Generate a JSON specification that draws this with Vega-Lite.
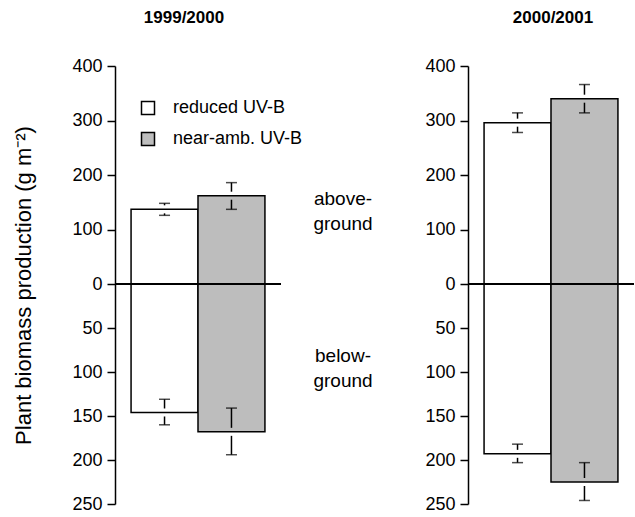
{
  "$schema": "https://vega.github.io/schema/vega-lite/v6.json",
  "background": "white",
  "padding": {"left": 12, "top": 9, "right": 0, "bottom": 0},
  "spacing": 0,
  "config": {
    "font": "Liberation Sans",
    "view": {"stroke": null},
    "axis": {"labelFont": "Liberation Sans", "titleFont": "Liberation Sans", "labelColor": "black", "titleColor": "black"}
  },
  "datasets": {
    "bio": [
      {"season": "1999/2000", "part": "above", "treatment": "reduced UV-B", "value": 137, "lower": 126, "upper": 148},
      {"season": "1999/2000", "part": "above", "treatment": "near-amb. UV-B", "value": 162, "lower": 137, "upper": 186},
      {"season": "1999/2000", "part": "below", "treatment": "reduced UV-B", "value": -146, "lower": -160, "upper": -131},
      {"season": "1999/2000", "part": "below", "treatment": "near-amb. UV-B", "value": -168, "lower": -194, "upper": -141},
      {"season": "2000/2001", "part": "above", "treatment": "reduced UV-B", "value": 296, "lower": 278, "upper": 314},
      {"season": "2000/2001", "part": "above", "treatment": "near-amb. UV-B", "value": 340, "lower": 314, "upper": 366},
      {"season": "2000/2001", "part": "below", "treatment": "reduced UV-B", "value": -193, "lower": -203, "upper": -182},
      {"season": "2000/2001", "part": "below", "treatment": "near-amb. UV-B", "value": -225, "lower": -246, "upper": -203}
    ],
    "labels": [
      {"text": "above-\nground", "pos": 156},
      {"text": "below-\nground", "pos": -82}
    ]
  },
  "hconcat": [
    {
      "width": 166,
      "height": 438,
      "title": {"text": "1999/2000", "fontSize": 17, "fontWeight": "bold", "font": "Liberation Sans", "dx": -14, "offset": 30},
      "data": {"name": "bio"},
      "transform": [{"filter": "datum.season == '1999/2000'"}],
      "layer": [
        {
          "mark": {"type": "bar", "stroke": "black", "strokeWidth": 1.5},
          "encoding": {
            "x": {"field": "treatment", "type": "nominal", "sort": ["reduced UV-B", "near-amb. UV-B"], "axis": null,
                  "scale": {"domain": ["reduced UV-B", "near-amb. UV-B"], "paddingInner": 0, "paddingOuter": 0.24}},
            "y": {"field": "value", "type": "quantitative",
                  "scale": {"domain": [-250, 0, 400], "range": [438, 218, 0], "nice": false, "zero": false},
                  "axis": {"values": [-250, -200, -150, -100, -50, 0, 100, 200, 300, 400], "labelExpr": "abs(datum.value)",
                           "grid": false, "domainColor": "black", "domainWidth": 1.5, "tickColor": "black", "tickWidth": 1.5, "tickSize": 8,
                           "labelFontSize": 18, "labelPadding": 5, "title": "Plant biomass production (g m⁻²)", "titleFontSize": 22,
                           "titleFontWeight": "normal", "titlePadding": 36}},
            "y2": {"datum": 0},
            "fill": {"field": "treatment", "type": "nominal",
                     "scale": {"domain": ["reduced UV-B", "near-amb. UV-B"], "range": ["white", "#bdbdbd"]},
                     "legend": {"title": null, "orient": "none", "legendX": 24, "legendY": 33, "symbolType": "square", "symbolSize": 169,
                                "symbolStrokeColor": "black", "symbolStrokeWidth": 1.5, "labelFontSize": 18, "labelFont": "Liberation Sans",
                                "labelColor": "black", "labelOffset": 16, "rowPadding": 11}}
          }
        },
        {
          "mark": {"type": "rule", "color": "black", "strokeWidth": 1.5, "y2Offset": -4},
          "encoding": {"x": {"field": "treatment", "type": "nominal", "sort": ["reduced UV-B", "near-amb. UV-B"]}, "y": {"field": "upper", "type": "quantitative"}, "y2": {"field": "value"}}
        },
        {
          "mark": {"type": "rule", "color": "black", "strokeWidth": 1.5, "yOffset": 4},
          "encoding": {"x": {"field": "treatment", "type": "nominal", "sort": ["reduced UV-B", "near-amb. UV-B"]}, "y": {"field": "value", "type": "quantitative"}, "y2": {"field": "lower"}}
        },
        {
          "mark": {"type": "tick", "color": "black", "thickness": 1.5, "size": 11},
          "encoding": {"x": {"field": "treatment", "type": "nominal", "sort": ["reduced UV-B", "near-amb. UV-B"]}, "y": {"field": "upper", "type": "quantitative"}}
        },
        {
          "mark": {"type": "tick", "color": "black", "thickness": 1.5, "size": 11},
          "encoding": {"x": {"field": "treatment", "type": "nominal", "sort": ["reduced UV-B", "near-amb. UV-B"]}, "y": {"field": "lower", "type": "quantitative"}}
        },
        {
          "mark": {"type": "rule", "color": "black", "strokeWidth": 1.5},
          "encoding": {"y": {"datum": 0}}
        }
      ]
    },
    {
      "width": 118,
      "height": 438,
      "data": {"name": "labels"},
      "mark": {"type": "text", "fontSize": 19, "font": "Liberation Sans", "color": "black", "lineBreak": "\n", "lineHeight": 25, "align": "center", "baseline": "middle", "dx": 2},
      "encoding": {
        "y": {"field": "pos", "type": "quantitative", "axis": null, "scale": {"domain": [-250, 0, 400], "range": [438, 218, 0], "nice": false, "zero": false}},
        "text": {"field": "text"}
      }
    },
    {
      "width": 166,
      "height": 438,
      "title": {"text": "2000/2001", "fontSize": 17, "fontWeight": "bold", "font": "Liberation Sans", "dx": 2, "offset": 30},
      "data": {"name": "bio"},
      "transform": [{"filter": "datum.season == '2000/2001'"}],
      "layer": [
        {
          "mark": {"type": "bar", "stroke": "black", "strokeWidth": 1.5},
          "encoding": {
            "x": {"field": "treatment", "type": "nominal", "sort": ["reduced UV-B", "near-amb. UV-B"], "axis": null,
                  "scale": {"domain": ["reduced UV-B", "near-amb. UV-B"], "paddingInner": 0, "paddingOuter": 0.24}},
            "y": {"field": "value", "type": "quantitative",
                  "scale": {"domain": [-250, 0, 400], "range": [438, 218, 0], "nice": false, "zero": false},
                  "axis": {"values": [-250, -200, -150, -100, -50, 0, 100, 200, 300, 400], "labelExpr": "abs(datum.value)",
                           "grid": false, "domainColor": "black", "domainWidth": 1.5, "tickColor": "black", "tickWidth": 1.5, "tickSize": 8,
                           "labelFontSize": 18, "labelPadding": 5, "title": null, "minExtent": 68}},
            "y2": {"datum": 0},
            "fill": {"field": "treatment", "type": "nominal",
                     "scale": {"domain": ["reduced UV-B", "near-amb. UV-B"], "range": ["white", "#bdbdbd"]}, "legend": null}
          }
        },
        {
          "mark": {"type": "rule", "color": "black", "strokeWidth": 1.5, "y2Offset": -4},
          "encoding": {"x": {"field": "treatment", "type": "nominal", "sort": ["reduced UV-B", "near-amb. UV-B"]}, "y": {"field": "upper", "type": "quantitative"}, "y2": {"field": "value"}}
        },
        {
          "mark": {"type": "rule", "color": "black", "strokeWidth": 1.5, "yOffset": 4},
          "encoding": {"x": {"field": "treatment", "type": "nominal", "sort": ["reduced UV-B", "near-amb. UV-B"]}, "y": {"field": "value", "type": "quantitative"}, "y2": {"field": "lower"}}
        },
        {
          "mark": {"type": "tick", "color": "black", "thickness": 1.5, "size": 11},
          "encoding": {"x": {"field": "treatment", "type": "nominal", "sort": ["reduced UV-B", "near-amb. UV-B"]}, "y": {"field": "upper", "type": "quantitative"}}
        },
        {
          "mark": {"type": "tick", "color": "black", "thickness": 1.5, "size": 11},
          "encoding": {"x": {"field": "treatment", "type": "nominal", "sort": ["reduced UV-B", "near-amb. UV-B"]}, "y": {"field": "lower", "type": "quantitative"}}
        },
        {
          "mark": {"type": "rule", "color": "black", "strokeWidth": 1.5},
          "encoding": {"y": {"datum": 0}}
        }
      ]
    }
  ]
}
